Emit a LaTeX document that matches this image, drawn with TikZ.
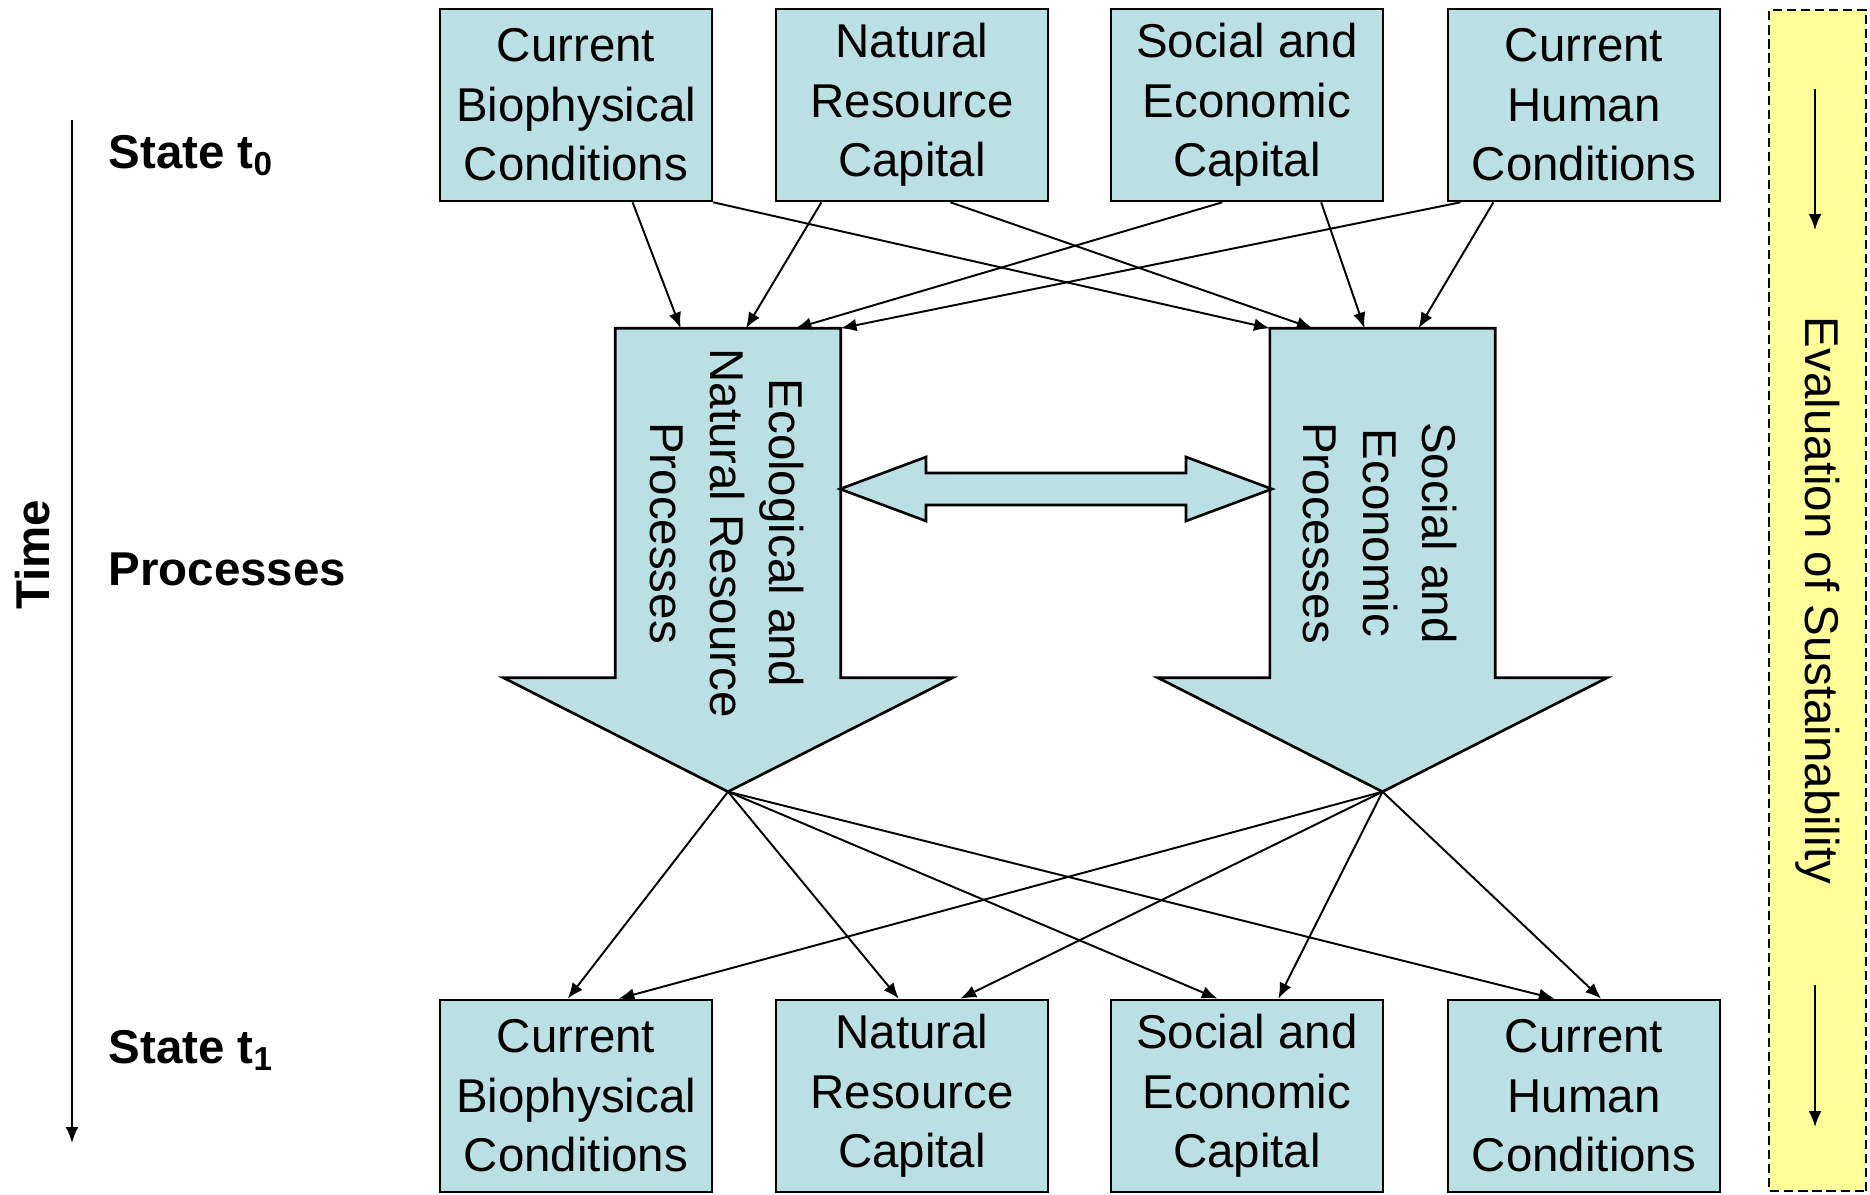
\documentclass[tikz,border=0pt]{standalone}
\usepackage{fontspec}
\setmainfont{Liberation Sans}
\usetikzlibrary{calc,arrows.meta}
\definecolor{procblue}{HTML}{BBE0E3}
\definecolor{evalyellow}{HTML}{FFFF99}
\newcommand{\boxfont}{\fontsize{13.5}{16.9}\selectfont}

\begin{document}
\begin{tikzpicture}[x=0.1mm, y=-0.1mm,
    state/.style={draw, line width=0.75pt, fill=procblue, minimum width=27.2mm,
      minimum height=19.2mm, align=center, inner sep=0pt, font=\boxfont},
    shaft/.style={inner sep=0pt, minimum width=22.4mm, minimum height=34.8mm},
    bigarrow/.style={draw, line width=0.75pt, fill=procblue, line join=miter},
    link/.style={-{Latex[length=4.5pt,width=3.6pt]}, line width=0.55pt},
    level/.style={anchor=base west, inner sep=0pt, font=\boxfont\bfseries},
    rottext/.style={rotate=-90, align=center, font=\boxfont}
  ]
  \useasboundingbox (0,0) rectangle (1870,1194);

  % states t0 and t1
  \foreach \n/\x/\t in {1/576/{Current\\Biophysical\\Conditions},
      2/912/{Natural\\Resource\\Capital},
      3/1247/{Social and\\Economic\\Capital},
      4/1584/{Current\\Human\\Conditions}} {
    \node[state] (t\n) at (\x,105) {\t};
    \node[state] (b\n) at (\x,1096) {\t};
  }

  % process arrows
  \node[shaft] (ls) at (728,503) {};
  \node[shaft] (rs) at (1382.5,503) {};
  \coordinate (lstip) at ($(ls.south)+(0,114)$);
  \coordinate (rstip) at ($(rs.south)+(0,114)$);
  \foreach \s in {ls,rs}
    \draw[bigarrow] (\s.north west) -- (\s.north east) -- (\s.south east)
      -- ++(112,0) -- (\s tip) -- ($(\s.south west)+(-112,0)$)
      -- (\s.south west) -- cycle;
  \node[rottext] (lstext) at (727,533) {Ecological and\\Natural Resource\\Processes};
  \node[rottext] (rstext) at (1380,533) {Social and\\Economic\\Processes};

  % interaction
  \draw[bigarrow] (840,489) -- ++(86,-32) -- ++(0,16) -- ++(260,0) -- ++(0,-16)
    -- (1272,489) -- ++(-86,32) -- ++(0,-16) -- ++(-260,0) -- ++(0,16) -- cycle;

  % t0 -> processes
  \foreach \s/\sp/\d/\dp in {t1/.706/ls/.29, t1/1/rs/0, t2/.17/ls/.58, t2/.64/rs/.19,
      t3/.41/ls/.80, t3/.77/rs/.42, t4/.05/ls/1, t4/.17/rs/.66}
    \draw[link] ($(\s.south west)!\sp!(\s.south east)$) -- ($(\d.north west)!\dp!(\d.north east)$);

  % processes -> t1
  \foreach \d/\p in {b1/.47, b2/.452, b3/.393, b4/.393}
    \draw[link] (lstip) -- ($(\d.north west)!\p!(\d.north east)$);
  \foreach \d/\p in {b1/.655, b2/.676, b3/.614, b4/.5625}
    \draw[link] (rstip) -- ($(\d.north west)!\p!(\d.north east)$);

  % time axis
  \coordinate (time0) at (72,120);
  \coordinate (time1) at (72,1143);
  \draw[link] (time0) -- (time1);
  \node[rotate=90, font=\boxfont\bfseries] (time) at (33,555) {Time};
  \node[level] (s0) at (108,168) {State t\textsubscript{0}};
  \node[level] (proc) at (108,585) {Processes};
  \node[level] (s1) at (108,1063) {State t\textsubscript{1}};

  % evaluation bar
  \node[draw, dash pattern=on 2.6pt off 1.4pt, line width=0.7pt, fill=evalyellow,
    rotate=-90, font=\boxfont, minimum width=118.1mm, minimum height=9.7mm]
    (eval) at (1817.5,600.5) {Evaluation of Sustainability};
  \coordinate (up0) at (1815,89);
  \coordinate (up1) at (1815,230);
  \coordinate (dn0) at (1815,985);
  \coordinate (dn1) at (1815,1127);
  \draw[link] (up0) -- (up1);
  \draw[link] (dn0) -- (dn1);
\end{tikzpicture}
\end{document}
